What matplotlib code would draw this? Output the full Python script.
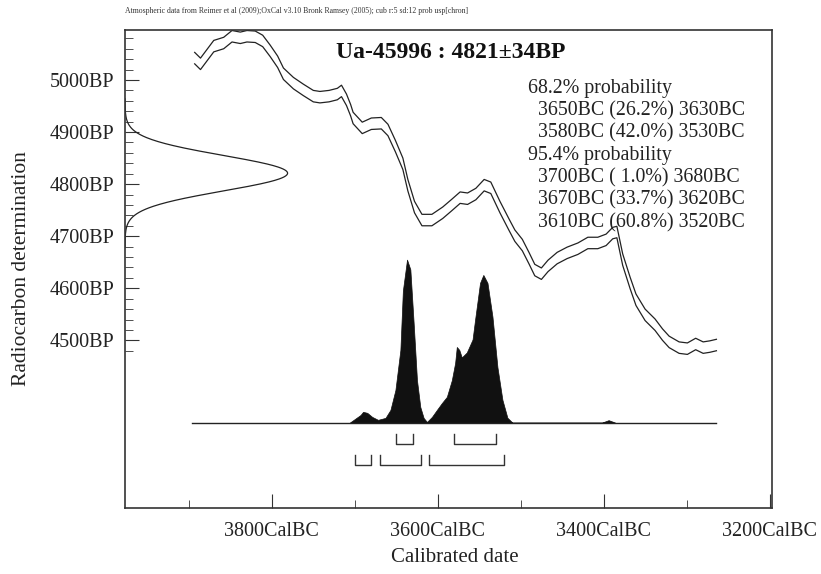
import numpy as np
import matplotlib
matplotlib.use('Agg')
import matplotlib.pyplot as plt
from matplotlib.ticker import FixedLocator, FuncFormatter

plt.rcParams['font.family'] = ['Liberation Serif', 'DejaVu Serif']

# calibration curve (IntCal09), centre line
curve_bc = [3893, 3886, 3870, 3858, 3848, 3838, 3830, 3820, 3811, 3802, 3793, 3786,
            3774, 3762, 3750, 3742, 3731, 3721, 3716, 3710, 3705, 3702, 3691, 3680,
            3668, 3660, 3651, 3642, 3636, 3628, 3619, 3607, 3594, 3583, 3573, 3564,
            3554, 3544, 3536, 3525, 3514, 3507, 3498, 3490, 3483, 3475, 3467, 3456,
            3444, 3431, 3419, 3407, 3397, 3389, 3384, 3377, 3368, 3361, 3350, 3338,
            3329, 3321, 3309, 3299, 3289, 3280, 3272, 3264]
curve_bp = [5042, 5031, 5065, 5071, 5084, 5081, 5084, 5083, 5075, 5056, 5035, 5012,
            4994, 4981, 4969, 4967, 4969, 4973, 4979, 4962, 4942, 4927, 4908, 4916,
            4917, 4904, 4873, 4839, 4798, 4756, 4731, 4731, 4745, 4760, 4774, 4772,
            4781, 4798, 4793, 4756, 4722, 4701, 4683, 4658, 4635, 4628, 4643, 4658,
            4668, 4676, 4687, 4687, 4693, 4706, 4708, 4655, 4610, 4578, 4549, 4530,
            4511, 4497, 4486, 4484, 4493, 4486, 4488, 4491]
curve_sd = 11

# calibrated probability (relative)
post_bc = [3706, 3693, 3690, 3685, 3679, 3672, 3663, 3657, 3651, 3645, 3642, 3637,
           3633, 3629, 3625, 3621, 3617, 3613, 3607, 3601, 3595, 3589, 3583, 3579,
           3577, 3574, 3571, 3565, 3558, 3555, 3549, 3545, 3540, 3534, 3528, 3522,
           3516, 3510, 3402, 3394, 3386]
post_p = [0, 0.047, 0.066, 0.06, 0.035, 0.017, 0.029, 0.078, 0.2, 0.446, 0.81, 1.0,
          0.94, 0.61, 0.26, 0.096, 0.029, 0.004, 0.035, 0.078, 0.12, 0.158, 0.26, 0.366,
          0.464, 0.446, 0.40, 0.43, 0.51, 0.63, 0.857, 0.906, 0.857, 0.65, 0.34, 0.14,
          0.03, 0, 0, 0.015, 0]

lab_code = 'Ua-45996'
c14_age = 4821
c14_err = 34

# (from, to, percent)
range68 = [(3650, 3630, 26.2), (3580, 3530, 42.0)]
range95 = [(3700, 3680, 1.0), (3670, 3620, 33.7), (3610, 3520, 60.8)]

x_major = [3800, 3600, 3400, 3200]
x_minor = [3900, 3700, 3500, 3300]
y_major = [5000, 4900, 4800, 4700, 4600, 4500]
y_minor = [v for v in range(4480, 5081, 20) if v % 100 != 0]

XL, XR = 3977, 3197
YB, YT = 4178, 5096
BASE = 4342          # baseline of the calibrated distribution
PEAK_H = 313         # height of the probability peak in BP units
LINE = '#222222'

fig = plt.figure(figsize=(8.21, 5.74), dpi=100)
ax = fig.add_axes([125 / 821, 1 - 508 / 574, 647 / 821, 478 / 574])
ax.set_xlim(XL, XR)
ax.set_ylim(YB, YT)

cb = np.array(curve_bc)
cp = np.array(curve_bp)
ax.plot(cb, cp + curve_sd, color=LINE, lw=0.9)
ax.plot(cb, cp - curve_sd, color=LINE, lw=0.9)

# radiocarbon measurement on the y axis
yy = np.linspace(c14_age - 4.2 * c14_err, c14_age + 4.2 * c14_err, 300)
dens = np.exp(-0.5 * ((yy - c14_age) / c14_err) ** 2)
ax.plot(XL - 196 * dens, yy, color=LINE, lw=0.9)

# calibrated date distribution
pb = np.array(post_bc)
pp = np.array(post_p)
ax.fill_between(pb, BASE, BASE + PEAK_H * pp, color='#111111', lw=0.5)
ax.plot([curve_bc[0] + 3, curve_bc[-1]], [BASE, BASE], color=LINE, lw=1.0)

# range brackets
for rows, yh in ((range68, BASE - 41), (range95, BASE - 81)):
    for a, b, _ in rows:
        ax.plot([a, a, b, b], [yh + 19, yh, yh, yh + 19], color='#333333', lw=1.0)

ax.text(0.504, 0.952, '%s : %d\u00b1%dBP' % (lab_code, c14_age, c14_err),
        transform=ax.transAxes, ha='center', va='center', fontsize=17,
        fontweight='bold', color='#111111')

lines = ['68.2% probability']
lines += ['  %dBC (%4.1f%%) %dBC' % (a, p, b) for a, b, p in range68]
lines += ['95.4% probability']
lines += ['  %dBC (%4.1f%%) %dBC' % (a, p, b) for a, b, p in range95]
for i, s in enumerate(lines):
    yp = 88 + i * 22.4
    ax.text((528 - 125) / 647, (508 - yp) / 478, s, transform=ax.transAxes,
            ha='left', va='center', fontsize=14.3, color='#222222')

fig.text(125 / 821, 1 - 11 / 574,
         'Atmospheric data from Reimer et al (2009);OxCal v3.10 Bronk Ramsey (2005); '
         'cub r:5 sd:12 prob usp[chron]', fontsize=5.6, va='center', color='#333333')

ax.xaxis.set_major_locator(FixedLocator(x_major))
ax.xaxis.set_minor_locator(FixedLocator(x_minor))
ax.xaxis.set_major_formatter(FuncFormatter(lambda v, p: '%dCalBC' % v))
ax.yaxis.set_major_locator(FixedLocator(y_major))
ax.yaxis.set_minor_locator(FixedLocator(y_minor))
ax.yaxis.set_major_formatter(FuncFormatter(lambda v, p: '%dBP' % v))
ax.tick_params(which='both', direction='in', top=False, right=False,
               labelsize=14.5, labelcolor='#222222', color='#333333')
ax.tick_params(axis='x', which='major', length=10, pad=10)
ax.tick_params(axis='x', which='minor', length=6)
ax.tick_params(axis='y', which='major', length=10, pad=8)
ax.tick_params(axis='y', which='minor', length=6)

for sp in ax.spines.values():
    sp.set_color('#333333')
    sp.set_linewidth(1.2)

ax.set_xlabel('Calibrated date', fontsize=15, color='#222222')
ax.set_ylabel('Radiocarbon determination', fontsize=15.5, color='#222222')
ax.xaxis.set_label_coords(0.51, -0.083)
ax.yaxis.set_label_coords(-0.145, 0.5)

fig.savefig('out.png', dpi=100)
